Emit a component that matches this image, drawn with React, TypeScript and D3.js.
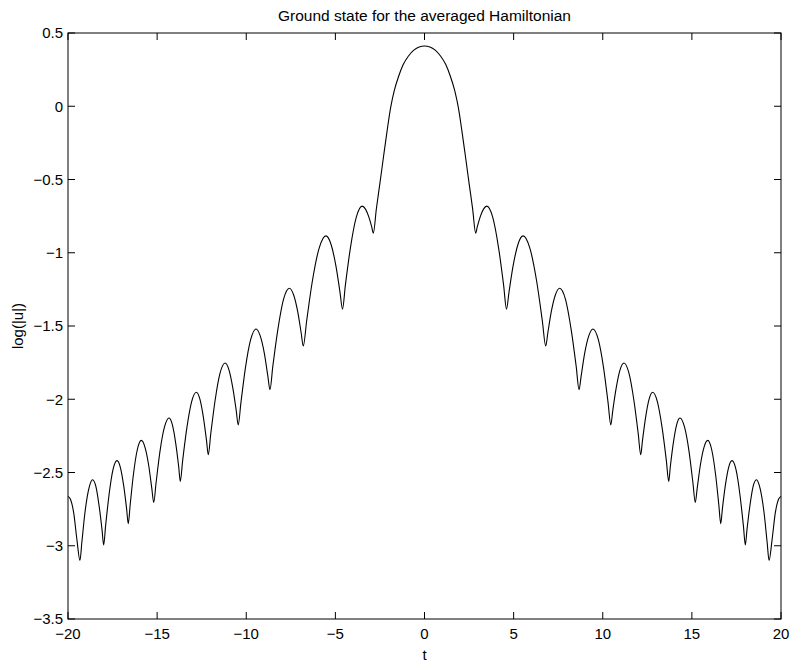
import React from 'react';
import * as d3 from 'd3';

// t values (left half, center, right half)
const tValues = [
  -20, -19.87, -19.68, -19.5, -19.33, -19.22, -19.05, -18.83, -18.62, -18.43, -18.25, -18.09,
  -18, -17.89, -17.7, -17.48, -17.25, -17.06, -16.87, -16.71, -16.62, -16.51, -16.33, -16.11,
  -15.89, -15.68, -15.47, -15.3, -15.19, -15.06, -14.85, -14.59, -14.33, -14.14, -13.95, -13.79,
  -13.7, -13.57, -13.34, -13.07, -12.8, -12.6, -12.4, -12.23, -12.13, -11.99, -11.75, -11.47,
  -11.19, -10.97, -10.75, -10.56, -10.45, -10.3, -10.05, -9.75, -9.45, -9.22, -8.98, -8.79,
  -8.67, -8.51, -8.23, -7.91, -7.58, -7.35, -7.11, -6.92, -6.8, -6.61, -6.29, -5.91,
  -5.53, -5.25, -4.97, -4.74, -4.6, -4.44, -4.16, -3.83, -3.5, -3.31, -3.12, -2.96,
  -2.87, -2.7, -2.5, -2.3, -2.1, -1.9, -1.7, -1.45, -1.2, -0.9, -0.6, -0.3,
  0,
  0.3, 0.6, 0.9, 1.2, 1.45, 1.7, 1.9, 2.1, 2.3, 2.5, 2.7, 2.87,
  2.96, 3.12, 3.31, 3.5, 3.83, 4.16, 4.44, 4.6, 4.74, 4.97, 5.25, 5.53,
  5.91, 6.29, 6.61, 6.8, 6.92, 7.11, 7.35, 7.58, 7.91, 8.23, 8.51, 8.67,
  8.79, 8.98, 9.22, 9.45, 9.75, 10.05, 10.3, 10.45, 10.56, 10.75, 10.97, 11.19,
  11.47, 11.75, 11.99, 12.13, 12.23, 12.4, 12.6, 12.8, 13.07, 13.34, 13.57, 13.7,
  13.79, 13.95, 14.14, 14.33, 14.59, 14.85, 15.06, 15.19, 15.3, 15.47, 15.68, 15.89,
  16.11, 16.33, 16.51, 16.62, 16.71, 16.87, 17.06, 17.25, 17.48, 17.7, 17.89, 18,
  18.09, 18.25, 18.43, 18.62, 18.83, 19.05, 19.22, 19.33, 19.5, 19.68, 19.87, 20,
];

// log(|u|) at each t
const logAbsU = [
  -2.663, -2.681, -2.776, -2.958, -3.1, -2.973, -2.775, -2.61, -2.549, -2.598, -2.732, -2.892,
  -2.995, -2.863, -2.655, -2.482, -2.419, -2.466, -2.595, -2.75, -2.849, -2.718, -2.514, -2.343,
  -2.281, -2.328, -2.454, -2.607, -2.704, -2.572, -2.364, -2.191, -2.128, -2.176, -2.306, -2.461,
  -2.561, -2.421, -2.202, -2.019, -1.952, -1.999, -2.127, -2.281, -2.379, -2.235, -2.01, -1.822,
  -1.753, -1.8, -1.926, -2.079, -2.176, -2.025, -1.789, -1.592, -1.52, -1.566, -1.69, -1.84,
  -1.935, -1.776, -1.526, -1.318, -1.242, -1.285, -1.404, -1.546, -1.637, -1.464, -1.193, -0.968,
  -0.885, -0.94, -1.09, -1.27, -1.385, -1.223, -0.97, -0.759, -0.682, -0.702, -0.757, -0.824,
  -0.866, -0.7, -0.525, -0.345, -0.17, -0.01, 0.105, 0.205, 0.283, 0.343, 0.383, 0.405,
  0.411,
  0.405, 0.383, 0.343, 0.283, 0.205, 0.105, -0.01, -0.17, -0.345, -0.525, -0.7, -0.866,
  -0.824, -0.757, -0.702, -0.682, -0.759, -0.97, -1.223, -1.385, -1.27, -1.09, -0.94, -0.885,
  -0.968, -1.193, -1.464, -1.637, -1.546, -1.404, -1.285, -1.242, -1.318, -1.526, -1.776, -1.935,
  -1.84, -1.69, -1.566, -1.52, -1.592, -1.789, -2.025, -2.176, -2.079, -1.926, -1.8, -1.753,
  -1.822, -2.01, -2.235, -2.379, -2.281, -2.127, -1.999, -1.952, -2.019, -2.202, -2.421, -2.561,
  -2.461, -2.306, -2.176, -2.128, -2.191, -2.364, -2.572, -2.704, -2.607, -2.454, -2.328, -2.281,
  -2.343, -2.514, -2.718, -2.849, -2.75, -2.595, -2.466, -2.419, -2.482, -2.655, -2.863, -2.995,
  -2.892, -2.732, -2.598, -2.549, -2.61, -2.775, -2.973, -3.1, -2.958, -2.776, -2.681, -2.663,
];

const xTicks = [-20, -15, -10, -5, 0, 5, 10, 15, 20];
const yTicks = [0.5, 0, -0.5, -1, -1.5, -2, -2.5, -3, -3.5];

const title = 'Ground state for the averaged Hamiltonian';
const xLabel = 't';
const yLabel = 'log(|u|)';

const W = 793;
const H = 667;
const left = 68;
const right = 781;
const top = 33;
const bottom = 619;
const tickLen = 7;
const font = '"Liberation Sans", Arial, Helvetica, sans-serif';

const fmt = (v: number) => String(v).replace('-', '\u2212');

export default function App() {
  const x = d3.scaleLinear().domain([-20, 20]).range([left, right]);
  const y = d3.scaleLinear().domain([-3.5, 0.5]).range([bottom, top]);

  const points: [number, number][] = tValues.map((t, i) => [t, logAbsU[i]]);
  const line = d3
    .line<[number, number]>()
    .x(d => x(d[0]))
    .y(d => y(d[1]))
    .curve(d3.curveMonotoneX);

  return (
    <svg width={W} height={H} style={{ position: 'absolute', left: 0, top: 0, background: '#fff' }}
      fontFamily={font}>
      <rect x={0} y={0} width={W} height={H} fill="#fff" />

      <text x={(left + right) / 2} y={20.5} textAnchor="middle" fontSize={15.5}>{title}</text>

      {/* plot line */}
      <path d={line(points) || ''} fill="none" stroke="#000" strokeWidth={1.1} />

      {/* box */}
      <rect x={left} y={top} width={right - left} height={bottom - top} fill="none" stroke="#000" strokeWidth={1} />

      {/* x ticks, bottom and top */}
      {xTicks.map(v => (
        <g key={'x' + v}>
          <line x1={x(v)} x2={x(v)} y1={bottom} y2={bottom - tickLen} stroke="#000" />
          <line x1={x(v)} x2={x(v)} y1={top} y2={top + tickLen} stroke="#000" />
          <text x={x(v)} y={639} textAnchor="middle" fontSize={15}>{fmt(v)}</text>
        </g>
      ))}

      {/* y ticks, left and right */}
      {yTicks.map(v => (
        <g key={'y' + v}>
          <line x1={left} x2={left + tickLen} y1={y(v)} y2={y(v)} stroke="#000" />
          <line x1={right} x2={right - tickLen} y1={y(v)} y2={y(v)} stroke="#000" />
          <text x={63} y={y(v)} dy="0.36em" textAnchor="end" fontSize={15}>{fmt(v)}</text>
        </g>
      ))}

      <text x={(left + right) / 2} y={660} textAnchor="middle" fontSize={15}>{xLabel}</text>
      <text transform={`translate(23, ${(top + bottom) / 2}) rotate(-90)`} textAnchor="middle" fontSize={15}>{yLabel}</text>
    </svg>
  );
}
